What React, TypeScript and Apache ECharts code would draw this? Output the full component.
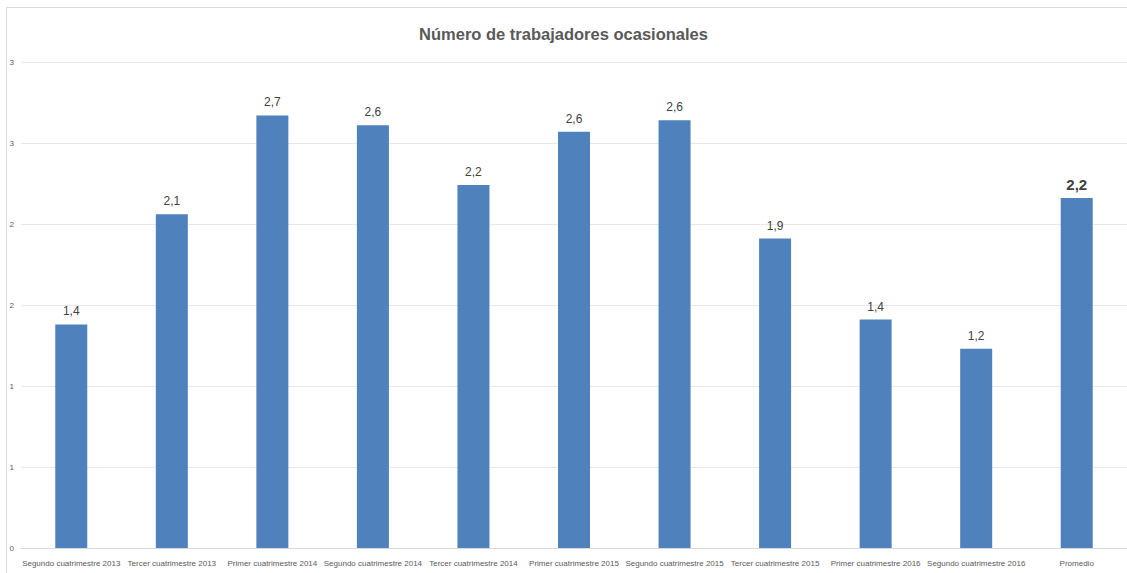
import React, { useEffect, useRef } from "react";
import * as echarts from "echarts";

const titleText = "Número de trabajadores ocasionales";
const categories = [
  "Segundo cuatrimestre 2013",
  "Tercer cuatrimestre 2013",
  "Primer cuatrimestre 2014",
  "Segundo cuatrimestre 2014",
  "Tercer cuatrimestre 2014",
  "Primer cuatrimestre 2015",
  "Segundo cuatrimestre 2015",
  "Tercer cuatrimestre 2015",
  "Primer cuatrimestre 2016",
  "Segundo cuatrimestre 2016",
  "Promedio",
];
const values = [1.38, 2.06, 2.67, 2.61, 2.24, 2.57, 2.64, 1.91, 1.41, 1.23, 2.16];
const yMin = 0;
const yMax = 3;
const yInterval = 0.5;

const FONT = "'Liberation Sans', Arial, sans-serif";

export default function App() {
  const ref = useRef<HTMLDivElement>(null);
  useEffect(() => {
    if (!ref.current) return;
    const chart = echarts.init(ref.current, null, { renderer: "svg" });
    const fmt = (v: number) => v.toFixed(1).replace(".", ",");
    chart.setOption({
      animation: false,
      backgroundColor: "#ffffff",
      textStyle: { fontFamily: FONT },
      title: {
        text: titleText,
        left: "center",
        top: 25,
        padding: 0,
        textStyle: { fontFamily: FONT, fontSize: 16.5, fontWeight: "bold", color: "#595959" },
      },
      graphic: [
        {
          type: "rect",
          shape: { x: 6.5, y: 7.5, width: 1140, height: 600 },
          style: { fill: "none", stroke: "#d9d9d9", lineWidth: 1 },
          silent: true,
          z: -1,
        },
      ],
      grid: { left: 21, top: 62, width: 1108, height: 486, containLabel: false },
      xAxis: {
        type: "category",
        data: categories,
        axisTick: { show: false },
        axisLine: { lineStyle: { color: "#d9d9d9" } },
        axisLabel: { interval: 0, color: "#595959", fontSize: 8, margin: 11, fontFamily: FONT },
      },
      yAxis: {
        type: "value",
        min: yMin,
        max: yMax,
        interval: yInterval,
        axisLine: { show: false },
        axisTick: { show: false },
        splitLine: { lineStyle: { color: "#e8e8e8" } },
        axisLabel: {
          color: "#595959",
          fontSize: 8,
          margin: 7,
          fontFamily: FONT,
          formatter: (v: number) => String(Math.round(v)),
        },
      },
      series: [
        {
          type: "bar",
          barWidth: 32,
          itemStyle: { color: "#4f81bd" },
          data: values.map((v, i) =>
            i === values.length - 1
              ? {
                  value: v,
                  label: { fontSize: 15, fontWeight: "bold", color: "#404040", distance: 6 },
                }
              : v
          ),
          label: {
            show: true,
            position: "top",
            distance: 7,
            color: "#404040",
            fontSize: 12,
            fontFamily: FONT,
            formatter: (p: any) => fmt(p.value),
          },
        },
      ],
    });
    return () => chart.dispose();
  }, []);
  return (
    <div
      ref={ref}
      style={{ position: "fixed", left: 0, top: 0, width: 1127, height: 573, background: "#fff" }}
    />
  );
}
